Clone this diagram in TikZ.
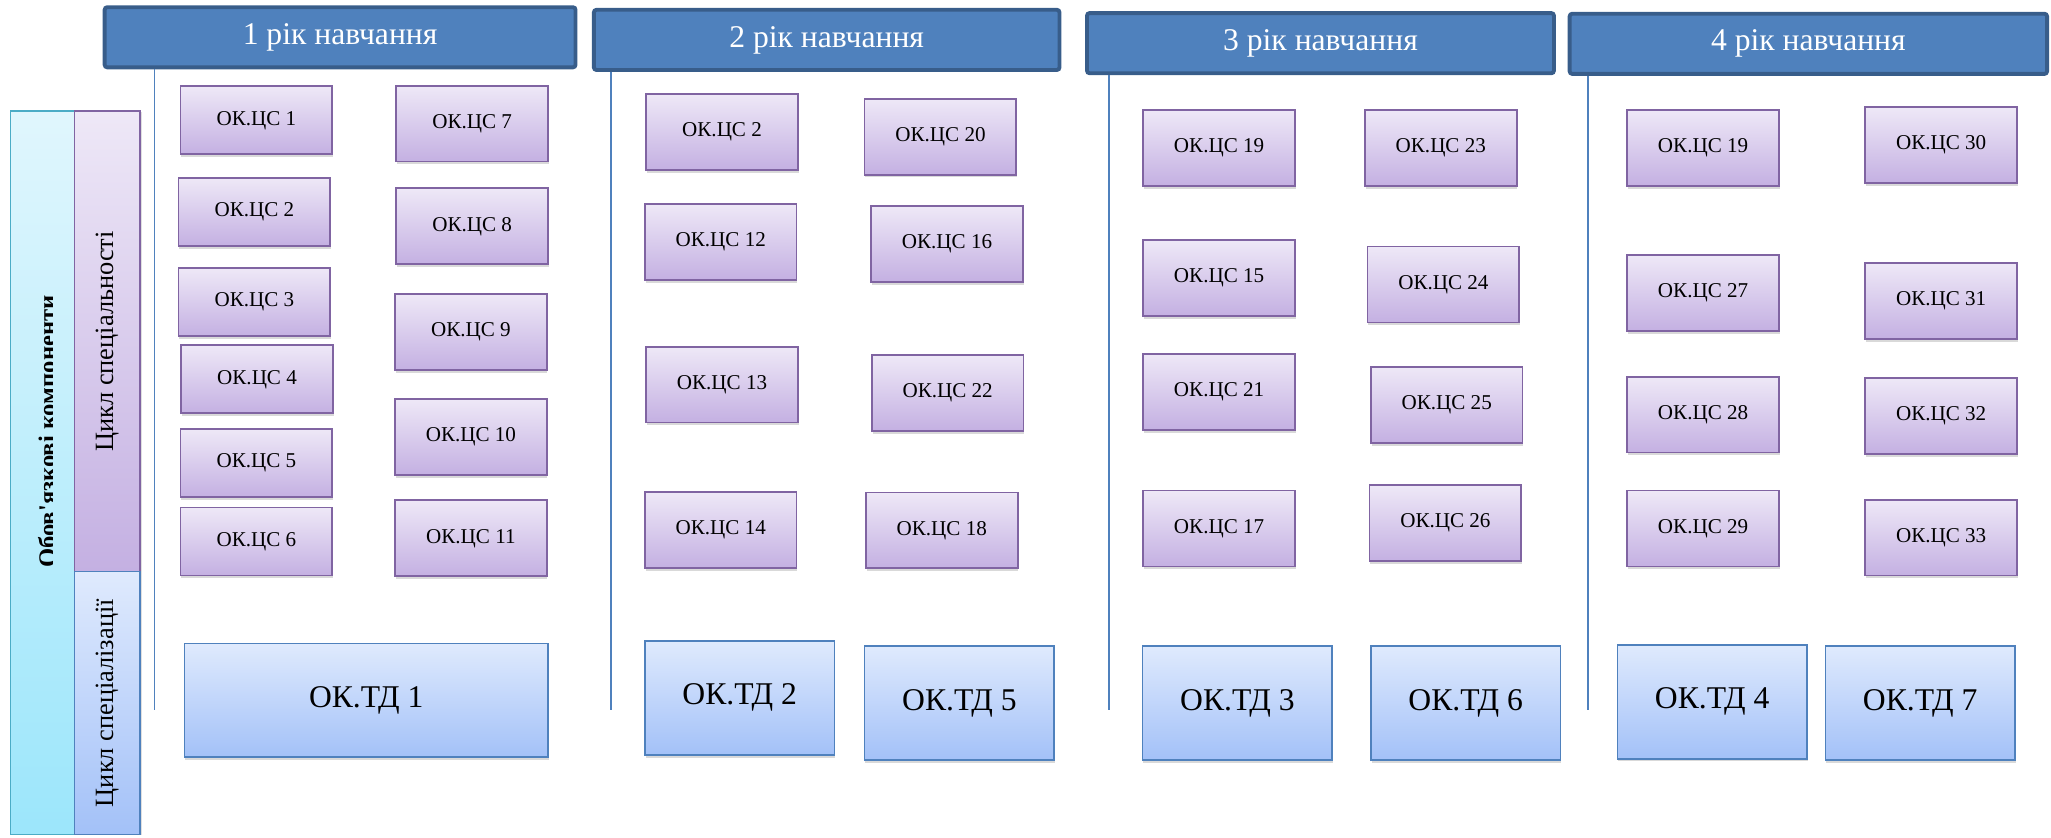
\documentclass[tikz,border=0pt]{standalone}
\usepackage{fontspec}
\setmainfont{Liberation Serif}
\usetikzlibrary{shadows}

\definecolor{hdrfill}{HTML}{4F81BD}
\definecolor{hdrline}{HTML}{385D8A}
\definecolor{lilactop}{HTML}{EEE8F7}
\definecolor{lilacbot}{HTML}{C4B0E2}
\definecolor{lilacline}{HTML}{8064A2}
\definecolor{skytop}{HTML}{DFEAFD}
\definecolor{skybot}{HTML}{A3C1F8}
\definecolor{skyline}{HTML}{4F81BD}
\definecolor{cyantop}{HTML}{E0F6FD}
\definecolor{cyanbot}{HTML}{9CE6FB}
\definecolor{cyanline}{HTML}{4BACC6}

\newcommand{\unitpx}{0.2616mm}

\tikzset{
  yearhead/.style={draw=hdrline, line width=2.2pt, fill=hdrfill, text=white,
    rounded corners=1.5pt, inner sep=0pt, minimum height=46*\unitpx,
    font=\fontsize{18}{20}\selectfont},
  yearline/.style={draw=hdrfill, line width=0.9pt},
  csbox/.style={draw=lilacline, line width=1pt, top color=lilactop, bottom color=lilacbot,
    inner sep=0pt, minimum width=116*\unitpx, minimum height=58*\unitpx,
    font=\fontsize{12}{14}\selectfont,
    drop shadow={shadow xshift=0.4pt, shadow yshift=-1.6pt, opacity=0.3}},
  csshort/.style={csbox, minimum height=52*\unitpx},
  tdbox/.style={draw=skyline, line width=1pt, top color=skytop, bottom color=skybot,
    inner sep=0pt, minimum width=145*\unitpx, minimum height=87*\unitpx,
    font=\fontsize{18}{20}\selectfont,
    drop shadow={shadow xshift=0.4pt, shadow yshift=-1.6pt, opacity=0.3}},
  cyclebar/.style={line width=1pt, inner sep=0pt, minimum width=50*\unitpx,
    drop shadow={shadow xshift=1pt, shadow yshift=-0.5pt, opacity=0.25}},
  cycletext/.style={rotate=90, inner sep=0pt, font=\fontsize{15}{17}\selectfont},
}

\begin{document}
\begin{tikzpicture}[x=0.2616mm, y=-0.2616mm]
  \useasboundingbox (0,0) rectangle (1568,640);

  % left column
  \node[draw=cyanline, line width=1pt, top color=cyantop, bottom color=cyanbot,
    minimum width=49*\unitpx, minimum height=553*\unitpx, inner sep=0pt] (oblig) at (32.5,361.5) {};
  \begin{scope}
    \clip (oblig.north west) rectangle (40.5,638);
    \node[rotate=90, anchor=base, font=\fontsize{14}{16}\selectfont\bfseries] (obligtext) at (42.5,330) {Обов\textquotesingle язкові компоненти};
  \end{scope}
  \node[cyclebar, draw=lilacline, top color=lilactop, bottom color=lilacbot,
    minimum height=352*\unitpx] (spec) at (82,261) {};
  \node[cyclebar, draw=skyline, top color=skytop, bottom color=skybot,
    minimum height=201*\unitpx] (special) at (82,537.5) {};
  \node[cycletext] (spectext) at (spec.center) {Цикл спеціальності};
  \node[cycletext] (specialtext) at (special.center) {Цикл спеціалізації};

  % year headers
  \node[yearhead, minimum width=360*\unitpx] (h1) at (260,28.5) {1 рік навчання};
  \node[yearhead, minimum width=356*\unitpx] (h2) at (632,30.5) {2 рік навчання};
  \node[yearhead, minimum width=357*\unitpx] (h3) at (1009.5,33) {3 рік навчання};
  \node[yearhead, minimum width=365*\unitpx] (h4) at (1382.5,33.5) {4 рік навчання};

  \coordinate (e1) at (118,543);
  \coordinate (e2) at (467,543);
  \coordinate (e3) at (848,543);
  \coordinate (e4) at (1214,543);
  \draw[yearline] (h1.south -| e1) -- (e1);
  \draw[yearline] (h2.south -| e2) -- (e2);
  \draw[yearline] (h3.south -| e3) -- (e3);
  \draw[yearline] (h4.south -| e4) -- (e4);

  % year 1
  \node[csshort] (a1) at (196,92) {ОК.ЦС 1};
  \node[csshort] (a2) at (194.5,162) {ОК.ЦС 2};
  \node[csshort] (a3) at (194.5,231) {ОК.ЦС 3};
  \node[csshort] (a4) at (196.5,290) {ОК.ЦС 4};
  \node[csshort] (a5) at (196,354) {ОК.ЦС 5};
  \node[csshort] (a6) at (196,414) {ОК.ЦС 6};
  \node[csbox] (a7) at (361,94.5) {ОК.ЦС 7};
  \node[csbox] (a8) at (361,173) {ОК.ЦС 8};
  \node[csbox] (a9) at (360,254) {ОК.ЦС 9};
  \node[csbox] (a10) at (360,334) {ОК.ЦС 10};
  \node[csbox] (a11) at (360,411.5) {ОК.ЦС 11};
  \node[tdbox, minimum width=278*\unitpx] (td1) at (280,535.5) {ОК.ТД 1};

  % year 2
  \node[csbox] (b2) at (552,101) {ОК.ЦС 2};
  \node[csbox] (b20) at (719,104.5) {ОК.ЦС 20};
  \node[csbox] (b12) at (551,185) {ОК.ЦС 12};
  \node[csbox] (b16) at (724,186.5) {ОК.ЦС 16};
  \node[csbox] (b13) at (552,294) {ОК.ЦС 13};
  \node[csbox] (b22) at (724.5,300.5) {ОК.ЦС 22};
  \node[csbox] (b14) at (551,405) {ОК.ЦС 14};
  \node[csbox] (b18) at (720,405.5) {ОК.ЦС 18};
  \node[tdbox] (td2) at (565.5,533.5) {ОК.ТД 2};
  \node[tdbox] (td5) at (733.5,537.5) {ОК.ТД 5};

  % year 3
  \node[csbox] (c19) at (932,113) {ОК.ЦС 19};
  \node[csbox] (c23) at (1101.5,113) {ОК.ЦС 23};
  \node[csbox] (c15) at (932,212.5) {ОК.ЦС 15};
  \node[csbox] (c24) at (1103.5,217.5) {ОК.ЦС 24};
  \node[csbox] (c21) at (932,299.5) {ОК.ЦС 21};
  \node[csbox] (c25) at (1106,309.5) {ОК.ЦС 25};
  \node[csbox] (c17) at (932,404) {ОК.ЦС 17};
  \node[csbox] (c26) at (1105,400) {ОК.ЦС 26};
  \node[tdbox] (td3) at (946,537.5) {ОК.ТД 3};
  \node[tdbox] (td6) at (1120.5,537.5) {ОК.ТД 6};

  % year 4
  \node[csbox] (d19) at (1302,113) {ОК.ЦС 19};
  \node[csbox] (d30) at (1484,111) {ОК.ЦС 30};
  \node[csbox] (d27) at (1302,224) {ОК.ЦС 27};
  \node[csbox] (d31) at (1484,230) {ОК.ЦС 31};
  \node[csbox] (d28) at (1302,317) {ОК.ЦС 28};
  \node[csbox] (d32) at (1484,318) {ОК.ЦС 32};
  \node[csbox] (d29) at (1302,404) {ОК.ЦС 29};
  \node[csbox] (d33) at (1484,411) {ОК.ЦС 33};
  \node[tdbox] (td4) at (1309,536.5) {ОК.ТД 4};
  \node[tdbox] (td7) at (1468,537.5) {ОК.ТД 7};
\end{tikzpicture}
\end{document}
